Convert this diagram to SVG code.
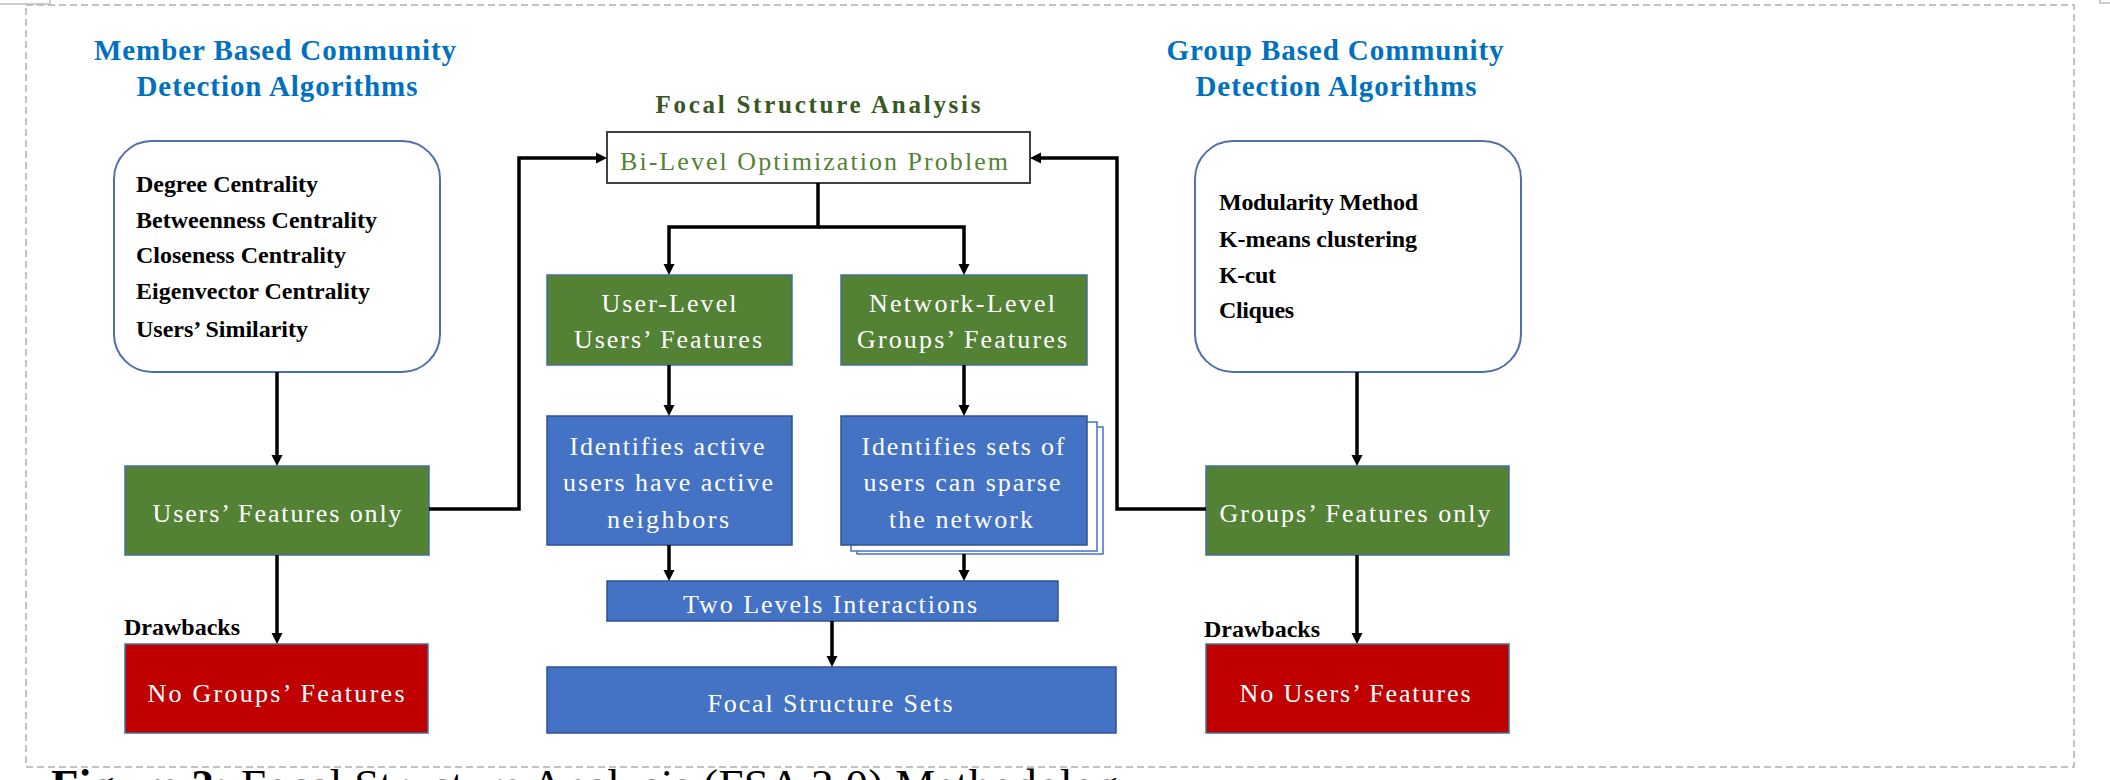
<svg xmlns="http://www.w3.org/2000/svg" width="2110" height="780" viewBox="0 0 2110 780">
<style>
.ttl{font-family:"Liberation Serif",serif;font-weight:bold;font-size:29px;fill:#0070C0;text-anchor:middle}
.lst{font-family:"Liberation Serif",serif;font-weight:bold;font-size:24px;fill:#000}
.drw{font-family:"Liberation Serif",serif;font-weight:bold;font-size:24px;fill:#000}
.wt{font-family:"Liberation Serif",serif;font-size:26px;fill:#fff;text-anchor:middle}
.grn{fill:#548235;stroke:#41719C;stroke-width:1.5}
.blu{fill:#4472C4;stroke:#2F528F;stroke-width:1.5}
.red{fill:#C00000;stroke:#41719C;stroke-width:1.5}
.rnd{fill:#fff;stroke:#4F6FAD;stroke-width:2}
.con{fill:none;stroke:#000;stroke-width:3.5;marker-end:url(#ah)}
.frame{fill:none;stroke:#C3C3C3;stroke-width:2;stroke-dasharray:7,4}
</style>
<defs>
<marker id="ah" markerUnits="userSpaceOnUse" markerWidth="12" markerHeight="12" refX="7" refY="6" orient="auto">
<path d="M0,0.5 L11,6 L0,11.5 z" fill="#000"/>
</marker>
</defs>
<rect width="2110" height="780" fill="#fff"/>
<g id="frame">
<rect class="frame" x="26" y="5" width="2048" height="762"/>
<path d="M0,4 H50 V0" fill="none" stroke="#BDBDBD" stroke-width="1.5"/>
<path d="M2110,3 H2100 V0" fill="none" stroke="#BDBDBD" stroke-width="1.5"/>
</g>
<g id="title-member">
<text class="ttl" x="275" y="60" textLength="362">Member Based Community</text>
<text class="ttl" x="277" y="96" textLength="281">Detection Algorithms</text>
</g>
<g id="title-group">
<text class="ttl" x="1335" y="60" textLength="337">Group Based Community</text>
<text class="ttl" x="1336" y="96" textLength="281">Detection Algorithms</text>
</g>
<g id="title-fsa">
<text x="818" y="113" textLength="325" style="font-family:'Liberation Serif',serif;font-weight:bold;font-size:25px;fill:#385723;text-anchor:middle">Focal Structure Analysis</text>
</g>
<g id="member-list">
<rect class="rnd" x="114" y="141" width="326" height="231" rx="38" ry="38"/>
<text class="lst" x="136" y="192" textLength="182">Degree Centrality</text>
<text class="lst" x="136" y="228" textLength="241">Betweenness Centrality</text>
<text class="lst" x="136" y="263" textLength="210">Closeness Centrality</text>
<text class="lst" x="136" y="299" textLength="234">Eigenvector Centrality</text>
<text class="lst" x="136" y="337" textLength="172">Users’ Similarity</text>
</g>
<g id="group-list">
<rect class="rnd" x="1195" y="141" width="326" height="231" rx="38" ry="38"/>
<text class="lst" x="1219" y="210" textLength="199">Modularity Method</text>
<text class="lst" x="1219" y="247" textLength="198">K-means clustering</text>
<text class="lst" x="1219" y="283" textLength="57">K-cut</text>
<text class="lst" x="1219" y="318" textLength="75">Cliques</text>
</g>
<g id="users-only">
<rect class="grn" x="125" y="466" width="304" height="89"/>
<text class="wt" x="277" y="522" textLength="249">Users’ Features only</text>
</g>
<g id="groups-only">
<rect class="grn" x="1206" y="466" width="303" height="89"/>
<text class="wt" x="1355" y="522" textLength="271">Groups’ Features only</text>
</g>
<g id="drawbacks-left">
<text class="drw" x="124" y="635" textLength="116">Drawbacks</text>
</g>
<g id="drawbacks-right">
<text class="drw" x="1204" y="637" textLength="116">Drawbacks</text>
</g>
<g id="no-groups">
<rect class="red" x="125" y="644" width="303" height="89"/>
<text class="wt" x="276" y="702" textLength="257">No Groups’ Features</text>
</g>
<g id="no-users">
<rect class="red" x="1206" y="644" width="303" height="89"/>
<text class="wt" x="1355" y="702" textLength="231">No Users’ Features</text>
</g>
<g id="bilevel">
<rect x="607" y="132" width="423" height="51" fill="#fff" stroke="#404040" stroke-width="2"/>
<text x="814" y="170" textLength="388" style="font-family:'Liberation Serif',serif;font-size:26px;fill:#548235;text-anchor:middle">Bi-Level Optimization Problem</text>
</g>
<g id="user-level">
<rect class="grn" x="547" y="275" width="245" height="90"/>
<text class="wt" x="669" y="312" textLength="135">User-Level</text>
<text class="wt" x="668" y="348" textLength="188">Users’ Features</text>
</g>
<g id="network-level">
<rect class="grn" x="841" y="275" width="246" height="90"/>
<text class="wt" x="962" y="312" textLength="186">Network-Level</text>
<text class="wt" x="962" y="348" textLength="210">Groups’ Features</text>
</g>
<g id="active-users">
<rect class="blu" x="547" y="416" width="245" height="129"/>
<text class="wt" x="667" y="455" textLength="195">Identifies active</text>
<text class="wt" x="668" y="491" textLength="210">users have active</text>
<text class="wt" x="668" y="528" textLength="122">neighbors</text>
</g>
<g id="sets-users">
<rect x="857" y="427" width="246" height="127" fill="#fff" stroke="#4472C4" stroke-width="1.5"/>
<rect x="851" y="422" width="246" height="129" fill="#fff" stroke="#4472C4" stroke-width="1.5"/>
<rect class="blu" x="841" y="416" width="246" height="129"/>
<text class="wt" x="963" y="455" textLength="203">Identifies sets of</text>
<text class="wt" x="962" y="491" textLength="197">users can sparse</text>
<text class="wt" x="961" y="528" textLength="144">the network</text>
</g>
<g id="two-levels">
<rect class="blu" x="607" y="581" width="451" height="40"/>
<text class="wt" x="830" y="613" textLength="294">Two Levels Interactions</text>
</g>
<g id="focal-sets">
<rect class="blu" x="547" y="667" width="569" height="66"/>
<text class="wt" x="830" y="712" textLength="245">Focal Structure Sets</text>
</g>
<g id="connectors">
<path class="con" d="M277,372 V462"/>
<path class="con" d="M277,555 V640"/>
<path class="con" d="M429,509 H519 V158 H603"/>
<path class="con" d="M818,183 V227 H669 V271"/>
<path class="con" d="M818,227 H964 V271"/>
<path class="con" d="M669,365 V412"/>
<path class="con" d="M964,365 V412"/>
<path class="con" d="M669,545 V577"/>
<path class="con" d="M964,554 V577"/>
<path class="con" d="M832,621 V663"/>
<path class="con" d="M1357,372 V462"/>
<path class="con" d="M1357,555 V640"/>
<path class="con" d="M1206,509 H1117 V158 H1034"/>
</g>
<g id="caption">
<text x="51" y="800" textLength="1090" style="font-family:'Liberation Serif',serif;font-size:45px;fill:#000"><tspan font-weight="bold">Figure 2: </tspan>Focal Structure Analysis (FSA 2.0) Methodology</text>
</g>
</svg>
